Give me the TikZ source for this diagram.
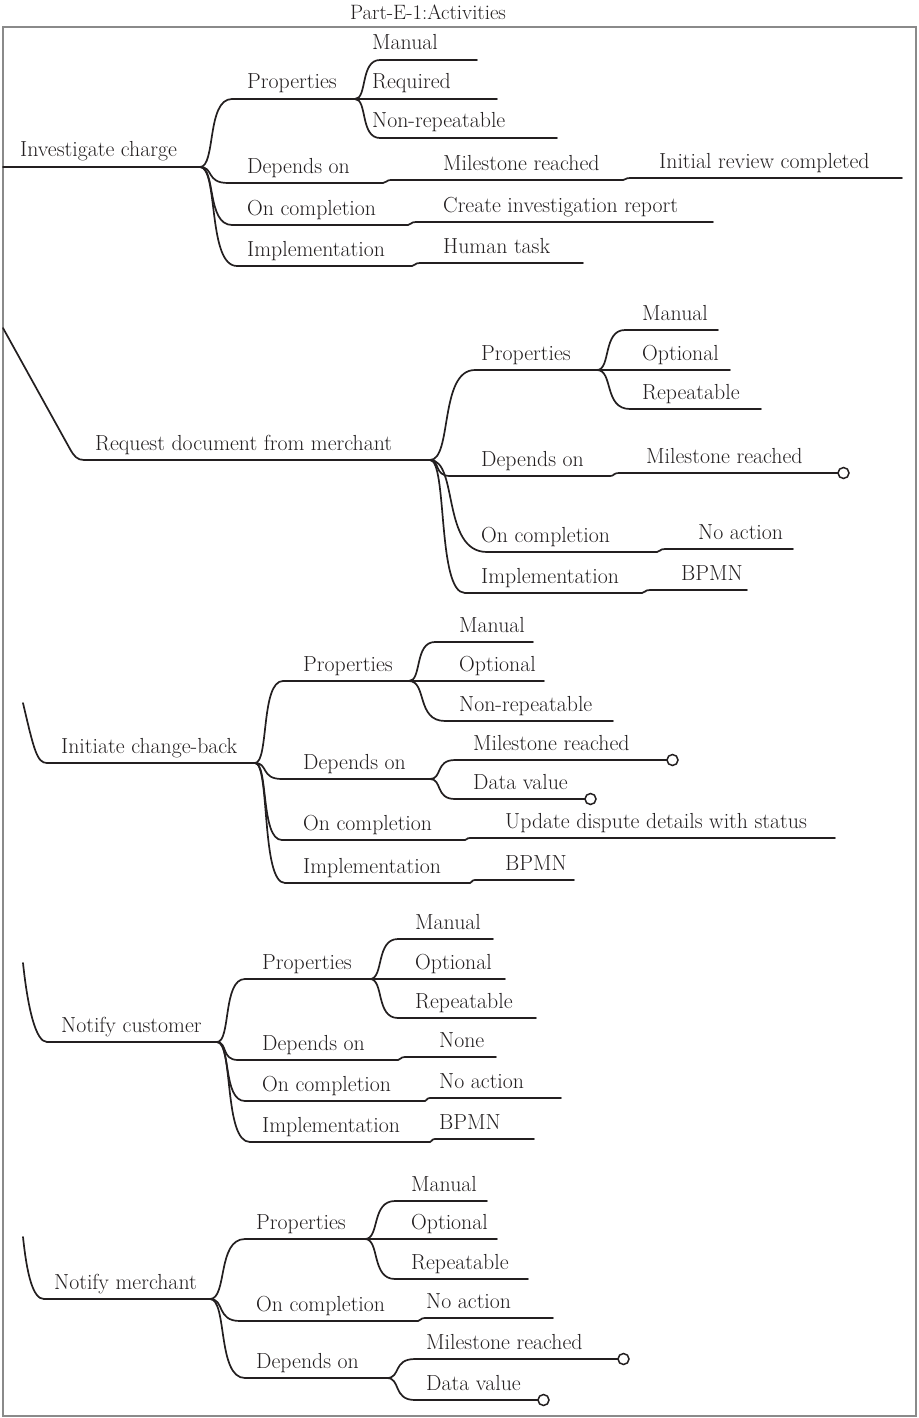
\documentclass[tikz,border=0pt]{standalone}
\usetikzlibrary{calc}
\definecolor{ink}{HTML}{231F20}
\definecolor{framegray}{HTML}{8A8A8A}
\tikzset{
  wire/.style={draw=ink, line width=1.7pt, line cap=round, line join=round},
  lbl/.style={anchor=base west, inner sep=0pt, text=ink, font=\fontsize{21.8}{26}\selectfont},
  ring/.style={circle, draw=ink, fill=white, line width=1.5pt, minimum size=11pt, inner sep=0pt},
  frame/.style={draw=framegray, line width=1.8pt},
  caption/.style={anchor=base, inner sep=0pt, text=ink, font=\fontsize{20.8}{25}\selectfont},
}
% a topic: name, underline start x, underline y, underline end x, text x, text
\newcommand\mmnode[6]{%
  \coordinate (#1-s) at (#2,#3);
  \coordinate (#1-e) at (#4,#3);
  \node[lbl] (#1) at (#5,{#3-10}) {#6};
  \draw[wire] (#1-s) -- (#1-e);
}
% curved branch from the end of a parent underline to the start of a child underline
\newcommand\mmlink[2]{%
  \draw[wire] let \p1=(#1-e), \p2=(#2-s) in
    (\p1) .. controls ({\x1+0.5*(\x2-\x1)},\y1) and ({\x1+0.2*(\x2-\x1)},\y2) .. (\p2);
}
% open end marker after an underline
\newcommand\mmring[1]{%
  \node[ring] (#1-o) at ($(#1-e)+(5.5,0)$) {};
}
\begin{document}
\begin{tikzpicture}[x=1pt,y=-1pt]
\useasboundingbox (0,0) rectangle (918,1418);
\fill[white] (0,0) rectangle (918,1418);
\draw[frame] (3,27) rectangle (916,1416);
\node[caption] (title) at (428,20) {Part-E-1:Activities};

% ---- Investigate charge
\mmnode{b1}{3}{167}{200}{20}{Investigate charge}
\mmnode{b1p}{232}{99}{355}{247}{Properties}
\mmnode{b1pa}{380}{60}{477}{372}{Manual}
\mmnode{b1pb}{355}{99}{497}{372}{Required}
\mmnode{b1pc}{380}{138}{557}{372}{Non-repeatable}
\mmnode{b1d}{228}{183}{383}{247}{Depends on}
\mmnode{b1da}{392}{180}{623}{443}{Milestone reached}
\mmnode{b1db}{630}{178}{902}{659}{Initial review completed}
\mmnode{b1c}{232}{225}{408}{247}{On completion}
\mmnode{b1ca}{416}{222}{713}{443}{Create investigation report}
\mmnode{b1i}{237}{266}{412}{247}{Implementation}
\mmnode{b1ia}{420}{263}{583}{443}{Human task}
\mmlink{b1}{b1p} \mmlink{b1p}{b1pa} \mmlink{b1p}{b1pb} \mmlink{b1p}{b1pc}
\mmlink{b1}{b1d} \mmlink{b1d}{b1da} \mmlink{b1da}{b1db}
\mmlink{b1}{b1c} \mmlink{b1c}{b1ca}
\mmlink{b1}{b1i} \mmlink{b1i}{b1ia}

% ---- Request document from merchant
\coordinate (b2in) at (3,328);
\mmnode{b2}{84}{460}{430}{95}{Request document from merchant}
\draw[wire] (b2in) -- (70,449) .. controls (74,456) and (77,460) .. (b2-s);
\mmnode{b2p}{475}{370}{597}{481}{Properties}
\mmnode{b2pa}{625}{330}{718}{642}{Manual}
\mmnode{b2pb}{597}{370}{730}{642}{Optional}
\mmnode{b2pc}{630}{409}{761}{642}{Repeatable}
\mmnode{b2d}{450}{476}{610}{481}{Depends on}
\mmnode{b2da}{620}{473}{838}{646}{Milestone reached}
\mmnode{b2c}{487}{552}{657}{481}{On completion}
\mmnode{b2ca}{665}{549}{793}{698}{No action}
\mmnode{b2i}{465}{593}{642}{481}{Implementation}
\mmnode{b2ia}{650}{590}{747}{681}{BPMN}
\mmlink{b2}{b2p} \mmlink{b2p}{b2pa} \mmlink{b2p}{b2pb} \mmlink{b2p}{b2pc}
\mmlink{b2}{b2d} \mmlink{b2d}{b2da}
\mmlink{b2}{b2c} \mmlink{b2c}{b2ca}
\mmlink{b2}{b2i} \mmlink{b2i}{b2ia}
\mmring{b2da}

% ---- Initiate change-back
\coordinate (b3in) at (23,703);
\mmnode{b3}{47}{763}{255}{61}{Initiate change-back}
\draw[wire] (b3in) .. controls (34,750) and (37,763) .. (b3-s);
\mmnode{b3p}{283}{681}{409}{303}{Properties}
\mmnode{b3pa}{435}{642}{533}{459}{Manual}
\mmnode{b3pb}{409}{681}{544}{459}{Optional}
\mmnode{b3pc}{445}{721}{613}{459}{Non-repeatable}
\mmnode{b3d}{282}{779}{430}{303}{Depends on}
\mmnode{b3da}{455}{760}{667}{473}{Milestone reached}
\mmnode{b3db}{455}{799}{585}{473}{Data value}
\mmnode{b3c}{282}{840}{465}{303}{On completion}
\mmnode{b3ca}{470}{838}{835}{505}{Update dispute details with status}
\mmnode{b3i}{285}{883}{470}{303}{Implementation}
\mmnode{b3ia}{475}{880}{574}{505}{BPMN}
\mmlink{b3}{b3p} \mmlink{b3p}{b3pa} \mmlink{b3p}{b3pb} \mmlink{b3p}{b3pc}
\mmlink{b3}{b3d} \mmlink{b3d}{b3da} \mmlink{b3d}{b3db}
\mmlink{b3}{b3c} \mmlink{b3c}{b3ca}
\mmlink{b3}{b3i} \mmlink{b3i}{b3ia}
\mmring{b3da} \mmring{b3db}

% ---- Notify customer
\coordinate (b4in) at (23,963);
\mmnode{b4}{47}{1042}{217}{61}{Notify customer}
\draw[wire] (b4in) .. controls (28,1010) and (36,1042) .. (b4-s);
\mmnode{b4p}{245}{979}{370}{262}{Properties}
\mmnode{b4pa}{398}{939}{493}{415}{Manual}
\mmnode{b4pb}{370}{979}{505}{415}{Optional}
\mmnode{b4pc}{398}{1018}{536}{415}{Repeatable}
\mmnode{b4d}{238}{1060}{398}{262}{Depends on}
\mmnode{b4da}{405}{1057}{496}{439}{None}
\mmnode{b4c}{245}{1101}{425}{262}{On completion}
\mmnode{b4ca}{430}{1098}{561}{439}{No action}
\mmnode{b4i}{250}{1142}{430}{262}{Implementation}
\mmnode{b4ia}{435}{1139}{534}{439}{BPMN}
\mmlink{b4}{b4p} \mmlink{b4p}{b4pa} \mmlink{b4p}{b4pb} \mmlink{b4p}{b4pc}
\mmlink{b4}{b4d} \mmlink{b4d}{b4da}
\mmlink{b4}{b4c} \mmlink{b4c}{b4ca}
\mmlink{b4}{b4i} \mmlink{b4i}{b4ia}

% ---- Notify merchant
\coordinate (b5in) at (23,1237);
\mmnode{b5}{44}{1299}{210}{54}{Notify merchant}
\draw[wire] (b5in) .. controls (27,1275) and (33,1299) .. (b5-s);
\mmnode{b5p}{245}{1239}{365}{256}{Properties}
\mmnode{b5pa}{395}{1201}{487}{411}{Manual}
\mmnode{b5pb}{365}{1239}{497}{411}{Optional}
\mmnode{b5pc}{395}{1279}{528}{411}{Repeatable}
\mmnode{b5c}{240}{1321}{418}{256}{On completion}
\mmnode{b5ca}{425}{1318}{553}{426}{No action}
\mmnode{b5d}{245}{1378}{387}{256}{Depends on}
\mmnode{b5da}{415}{1359}{618}{426}{Milestone reached}
\mmnode{b5db}{415}{1400}{538}{426}{Data value}
\mmlink{b5}{b5p} \mmlink{b5p}{b5pa} \mmlink{b5p}{b5pb} \mmlink{b5p}{b5pc}
\mmlink{b5}{b5c} \mmlink{b5c}{b5ca}
\mmlink{b5}{b5d} \mmlink{b5d}{b5da} \mmlink{b5d}{b5db}
\mmring{b5da} \mmring{b5db}
\end{tikzpicture}
\end{document}
